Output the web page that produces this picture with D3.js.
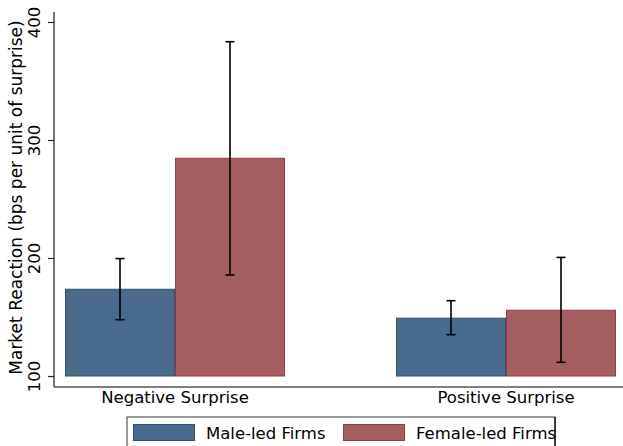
<!DOCTYPE html>
<html>
<head>
<meta charset="utf-8">
<script src="https://cdn.jsdelivr.net/npm/d3@7"></script>
<style>
  html, body { margin: 0; padding: 0; background: #fff; }
  svg { display: block; font-family: "DejaVu Sans", sans-serif; }
</style>
</head>
<body>
<svg id="chart" width="623" height="446"></svg>
<script>
// Surprise categories and firm groups
const categories = ["Negative Surprise", "Positive Surprise"];
const groups = ["Male-led Firms", "Female-led Firms"];

// Mean reaction (bps per unit of surprise) for each category, by group
const maleValues   = [173.5, 149.0];
const femaleValues = [284.5, 155.7];

// Confidence interval bounds
const maleLow    = [147.7, 135.0];
const maleHigh   = [199.5, 163.8];
const femaleLow  = [185.6, 111.6];
const femaleHigh = [383.3, 200.5];

const yTicks = [100, 200, 300, 400];
const baseValue = 100;

const colors = {
  "Male-led Firms":   { fill: "#496a8a", stroke: "#2c5274" },
  "Female-led Firms": { fill: "#a55e61", stroke: "#903c44" }
};

const rows = categories.map((c, i) => ({
  category: c,
  bars: [
    { group: groups[0], value: maleValues[i],   lo: maleLow[i],   hi: maleHigh[i] },
    { group: groups[1], value: femaleValues[i], lo: femaleLow[i], hi: femaleHigh[i] }
  ]
}));

const svg = d3.select("#chart");

// Plot region
const plotLeft = 54, plotRight = 623, plotTop = 12, plotBottom = 387;

const y = d3.scaleLinear().domain([100, 400]).range([376, 22]);

const x0 = d3.scalePoint().domain(categories).range([175, 506]);
const x1 = d3.scaleBand().domain(groups).range([-110, 110]).padding(0);

// Bars
const g = svg.append("g");
const cat = g.selectAll("g.cat").data(rows).join("g")
  .attr("class", "cat")
  .attr("transform", d => `translate(${x0(d.category)},0)`);

cat.selectAll("rect").data(d => d.bars).join("rect")
  .attr("x", d => x1(d.group) + 0.5)
  .attr("width", x1.bandwidth() - 1)
  .attr("y", d => y(d.value))
  .attr("height", d => y(baseValue) - y(d.value))
  .attr("fill", d => colors[d.group].fill)
  .attr("stroke", d => colors[d.group].stroke)
  .attr("stroke-width", 1);

// Error bars
const capHalf = 4.5;
const eb = cat.selectAll("g.err").data(d => d.bars).join("g")
  .attr("class", "err")
  .attr("transform", d => `translate(${x1(d.group) + x1.bandwidth() / 2},0)`);
eb.append("line")
  .attr("x1", 0).attr("x2", 0)
  .attr("y1", d => y(d.hi)).attr("y2", d => y(d.lo))
  .attr("stroke", "#000").attr("stroke-width", 1.6);
eb.append("line")
  .attr("x1", -capHalf).attr("x2", capHalf)
  .attr("y1", d => y(d.hi)).attr("y2", d => y(d.hi))
  .attr("stroke", "#000").attr("stroke-width", 1.6);
eb.append("line")
  .attr("x1", -capHalf).attr("x2", capHalf)
  .attr("y1", d => y(d.lo)).attr("y2", d => y(d.lo))
  .attr("stroke", "#000").attr("stroke-width", 1.6);

// Y axis
const axisColor = "#555";
svg.append("line")
  .attr("x1", plotLeft).attr("x2", plotLeft)
  .attr("y1", plotTop).attr("y2", plotBottom)
  .attr("stroke", axisColor).attr("stroke-width", 1.6);

const yAxis = svg.append("g").attr("transform", `translate(${plotLeft},0)`)
  .call(d3.axisLeft(y).tickValues(yTicks).tickSize(6).tickPadding(0).tickFormat(d3.format("d")));
yAxis.select(".domain").remove();
yAxis.selectAll(".tick line").attr("stroke", "#222").attr("stroke-width", 1.2);
yAxis.selectAll(".tick text")
  .attr("transform", "rotate(-90)")
  .attr("x", 0).attr("y", -14)
  .attr("dy", 0)
  .attr("text-anchor", "middle")
  .attr("fill", "#000")
  .style("font-size", "16.5px")
  .style("font-family", "DejaVu Sans, sans-serif");

// Y title
svg.append("text")
  .attr("transform", `translate(22,${(plotTop + plotBottom) / 2 - 2}) rotate(-90)`)
  .attr("text-anchor", "middle")
  .style("font-size", "17px")
  .attr("fill", "#000")
  .text("Market Reaction (bps per unit of surprise)");

// X axis
svg.append("line")
  .attr("x1", plotLeft).attr("x2", plotRight)
  .attr("y1", plotBottom).attr("y2", plotBottom)
  .attr("stroke", axisColor).attr("stroke-width", 1.6);

svg.selectAll("text.cat").data(categories).join("text")
  .attr("class", "cat")
  .attr("x", d => x0(d))
  .attr("y", 403)
  .attr("text-anchor", "middle")
  .style("font-size", "16.5px")
  .attr("fill", "#000")
  .text(d => d);

// Legend
const legend = svg.append("g");
legend.append("rect")
  .attr("x", 127).attr("y", 417)
  .attr("width", 428).attr("height", 40)
  .attr("fill", "#fff").attr("stroke", "#333").attr("stroke-width", 1);

const legendX = [133, 343];
const items = legend.selectAll("g.item").data(groups).join("g")
  .attr("class", "item")
  .attr("transform", (d, i) => `translate(${legendX[i]},424)`);
items.append("rect")
  .attr("x", 0.5).attr("y", 0.5)
  .attr("width", 61).attr("height", 16)
  .attr("fill", d => colors[d].fill)
  .attr("stroke", d => colors[d].stroke);
items.append("text")
  .attr("x", 73).attr("y", 14.5)
  .style("font-size", "16.5px")
  .attr("fill", "#000")
  .text(d => d);
// right border drawn over the legend text
legend.append("line")
  .attr("x1", 555).attr("x2", 555).attr("y1", 417).attr("y2", 446)
  .attr("stroke", "#000").attr("stroke-width", 1.2);
</script>
</body>
</html>
